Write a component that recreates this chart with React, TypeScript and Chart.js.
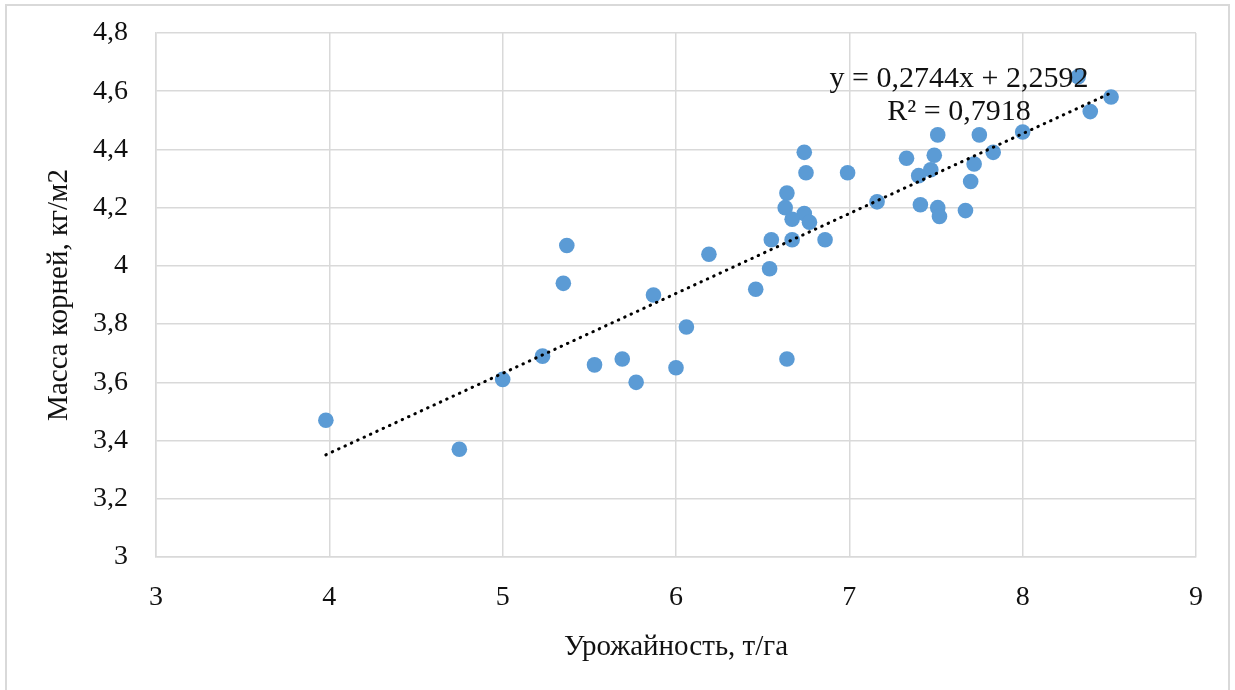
import React, { useEffect, useRef } from "react";
import { Chart, registerables } from "chart.js";

Chart.register(...registerables);

// Урожайность, т/га
const YIELD: number[] = [
  3.98, 4.75, 5.0, 5.23, 5.35, 5.37, 5.53, 5.69, 5.77, 5.87,
  6.0, 6.06, 6.19, 6.46, 6.54, 6.55, 6.64, 6.67, 6.74, 6.75,
  6.99, 6.64, 6.63, 6.74, 6.67, 6.77, 6.86, 7.16, 8.32, 8.39,
  7.51, 7.75, 8.0, 7.33, 7.49, 7.83, 7.47, 7.4, 7.72, 7.7,
  7.41, 7.51, 7.52, 7.67, 8.51,
];
// Масса корней, кг/м2
const ROOT_MASS: number[] = [
  3.47, 3.37, 3.61, 3.69, 3.94, 4.07, 3.66, 3.68, 3.6, 3.9,
  3.65, 3.79, 4.04, 3.92, 3.99, 4.09, 3.68, 4.09, 4.39, 4.32,
  4.32, 4.25, 4.2, 4.18, 4.16, 4.15, 4.09, 4.22, 4.65, 4.53,
  4.45, 4.45, 4.46, 4.37, 4.38, 4.39, 4.33, 4.31, 4.35, 4.29,
  4.21, 4.2, 4.17, 4.19, 4.58,
];

// Linear trend line endpoints
const TREND_X: number[] = [3.98, 8.52];
const TREND_Y: number[] = [3.351, 4.597];

const EQUATION = "y = 0,2744x + 2,2592";
const R2_LABEL = "R² = 0,7918";

const X_TITLE = "Урожайность, т/га";
const Y_TITLE = "Масса корней, кг/м2";

const X_MIN = 3;
const X_MAX = 9;
const X_STEP = 1;
const Y_MIN = 3;
const Y_MAX = 4.8;
const Y_STEP = 0.2;

const FONT = "'Liberation Serif', 'Times New Roman', serif";
const TEXT_COLOR = "#111111";
const GRID_COLOR = "#d9d9d9";
const POINT_COLOR = "#5b9bd5";

const fmt = (v: number) => String(Math.round(v * 10) / 10).replace(".", ",");

const equationPlugin = {
  id: "equationLabel",
  afterDatasetsDraw(chart: any) {
    const { ctx, chartArea } = chart;
    ctx.save();
    ctx.fillStyle = TEXT_COLOR;
    ctx.font = `30px ${FONT}`;
    ctx.textAlign = "center";
    ctx.textBaseline = "middle";
    const cx = chartArea.left + 803;
    ctx.fillText(EQUATION, cx, chartArea.top + 46);
    ctx.fillText(R2_LABEL, cx, chartArea.top + 79);
    ctx.restore();
  },
};

export default function App() {
  const canvasRef = useRef<HTMLCanvasElement | null>(null);

  useEffect(() => {
    if (!canvasRef.current) return;
    const points = YIELD.map((x, i) => ({ x, y: ROOT_MASS[i] }));
    const trend = TREND_X.map((x, i) => ({ x, y: TREND_Y[i] }));

    const chart = new Chart(canvasRef.current, {
      type: "scatter",
      data: {
        datasets: [
          {
            type: "line",
            label: "Линейная",
            data: trend,
            borderColor: "#000000",
            borderWidth: 3,
            borderDash: [0.5, 6.5],
            borderCapStyle: "round",
            pointRadius: 0,
            fill: false,
            order: 0,
          } as any,
          {
            label: "Данные",
            data: points,
            backgroundColor: POINT_COLOR,
            borderColor: POINT_COLOR,
            borderWidth: 0,
            pointRadius: 7.8,
            pointHoverRadius: 7.8,
            order: 1,
          },
        ],
      },
      options: {
        animation: false,
        responsive: false,
        maintainAspectRatio: false,
        layout: { padding: { top: 33, right: 39, left: 0, bottom: 0 } },
        plugins: {
          legend: { display: false },
          tooltip: { enabled: false },
        },
        scales: {
          x: {
            type: "linear",
            min: X_MIN,
            max: X_MAX,
            afterFit: (scale: any) => {
              scale.height = 133;
            },
            ticks: {
              stepSize: X_STEP,
              padding: 24,
              color: TEXT_COLOR,
              font: { family: FONT, size: 28 },
              callback: (v: any) => fmt(Number(v)),
            },
            grid: { color: GRID_COLOR, lineWidth: 1.5, drawTicks: false },
            border: { color: GRID_COLOR, width: 1.5 },
            title: {
              display: true,
              text: X_TITLE,
              color: TEXT_COLOR,
              font: { family: FONT, size: 29 },
              padding: { top: 0, bottom: 25 },
            },
          },
          y: {
            type: "linear",
            min: Y_MIN,
            max: Y_MAX,
            afterFit: (scale: any) => {
              scale.width = 156;
              scale.paddingTop = 0;
              scale.paddingBottom = 0;
            },
            ticks: {
              stepSize: Y_STEP,
              padding: 28,
              color: TEXT_COLOR,
              font: { family: FONT, size: 28 },
              callback: (v: any) => fmt(Number(v)),
            },
            grid: { color: GRID_COLOR, lineWidth: 1.5, drawTicks: false },
            border: { color: GRID_COLOR, width: 1.5 },
            title: {
              display: true,
              text: Y_TITLE,
              color: TEXT_COLOR,
              font: { family: FONT, size: 29 },
              padding: { top: 42, bottom: 0 },
            },
          },
        },
      },
      plugins: [equationPlugin],
    });

    return () => chart.destroy();
  }, []);

  return (
    <div
      style={{
        position: "fixed",
        left: 0,
        top: 0,
        width: 1235,
        height: 690,
        overflow: "hidden",
        background: "#ffffff",
      }}
    >
      <div
        style={{
          position: "absolute",
          left: 5,
          top: 4,
          width: 1221,
          height: 700,
          border: "2px solid #d9d9d9",
          boxSizing: "content-box",
        }}
      />
      <canvas
        ref={canvasRef}
        width={1235}
        height={690}
        style={{ position: "absolute", left: 0, top: 0, width: 1235, height: 690 }}
      />
    </div>
  );
}
